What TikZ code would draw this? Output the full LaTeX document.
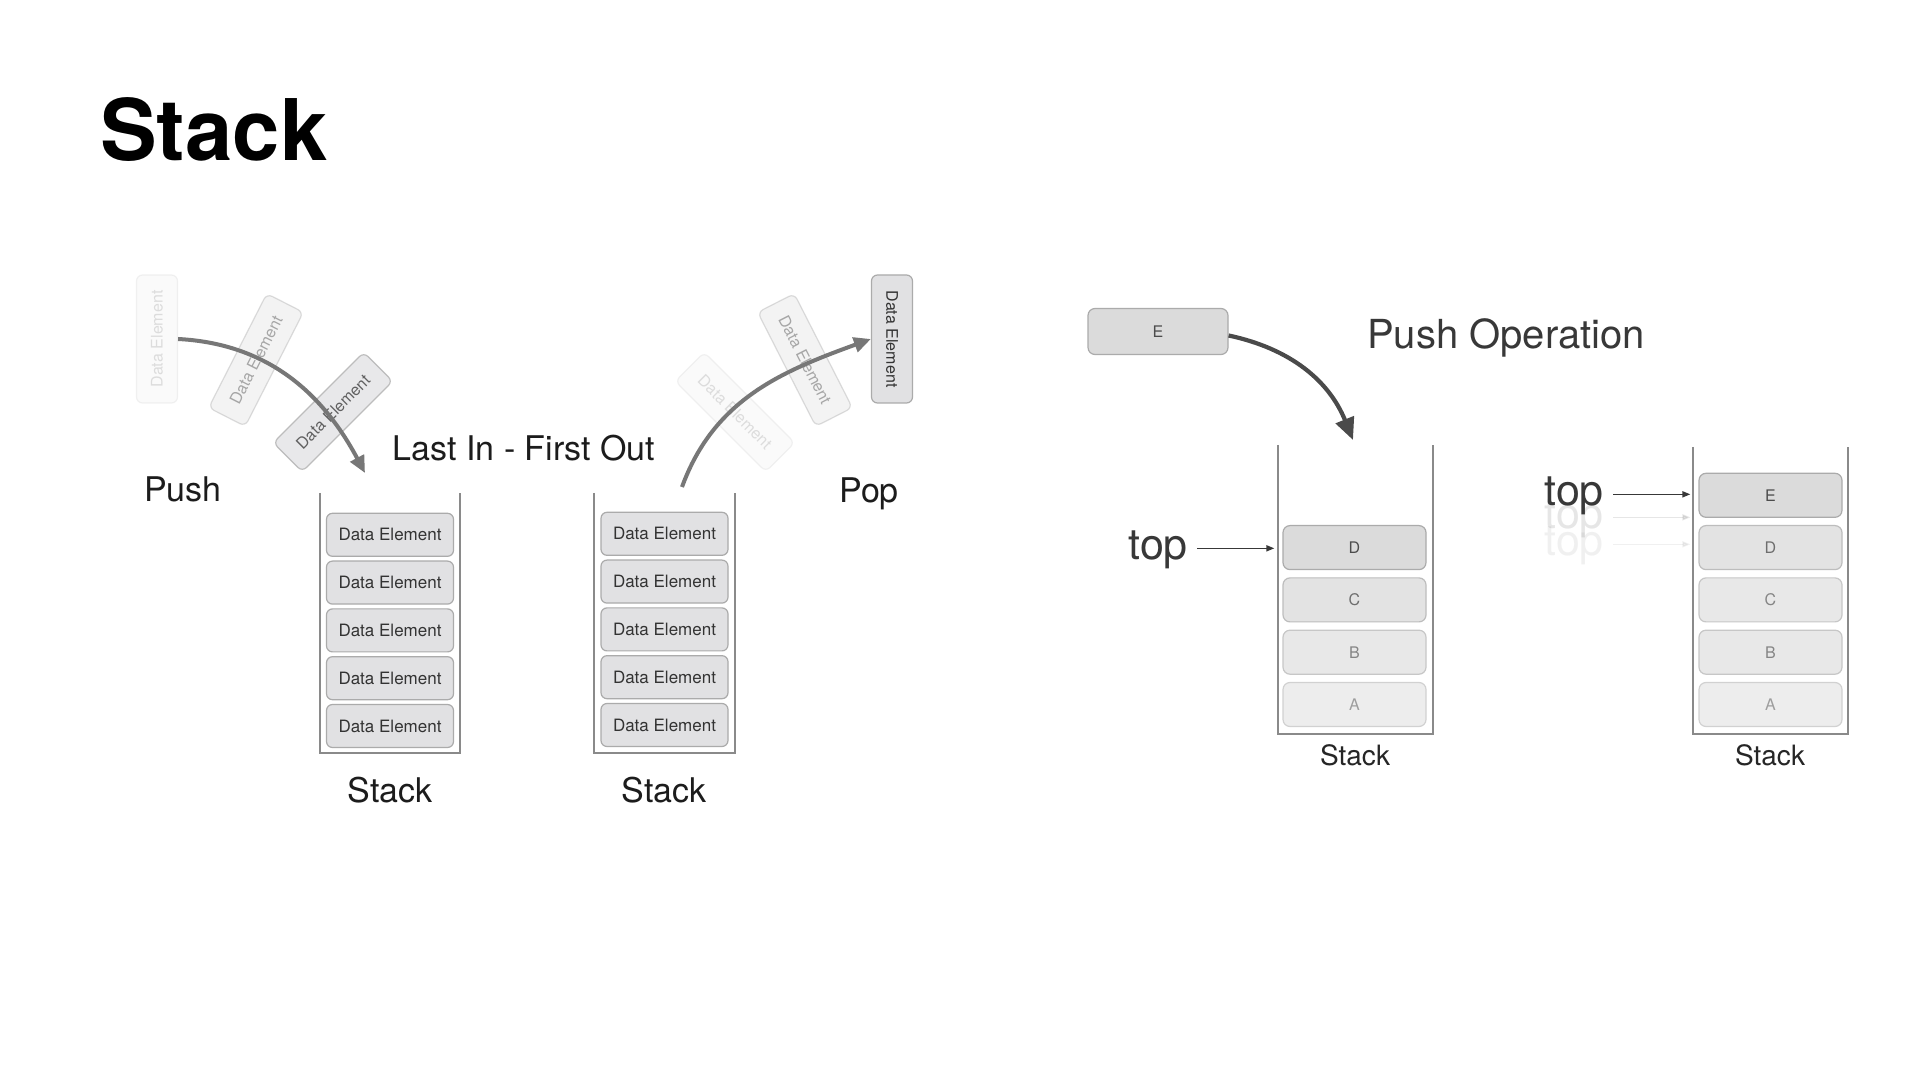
\documentclass[tikz,border=0pt]{standalone}
\usepackage{fontspec}
\setmainfont{TeX Gyre Heros}
\usetikzlibrary{arrows.meta,positioning,calc}

\definecolor{cellfill}{HTML}{E1E1E3}
\definecolor{celldraw}{HTML}{ABABAB}
\definecolor{celltext}{HTML}{333333}
\definecolor{wallgray}{HTML}{8A8A8A}
\definecolor{flowgray}{HTML}{777777}
\definecolor{pushgray}{HTML}{4A4A4A}
\definecolor{labeltext}{HTML}{1C1C1C}
\definecolor{optext}{HTML}{383838}

\tikzset{
  every node/.style={inner sep=0pt},
  elem/.style={draw=celldraw, fill=cellfill, line width=1.2pt, rounded corners=6pt,
    minimum width=127pt, minimum height=43pt, text=celltext, font=\fontsize{17}{17}\selectfont},
  flyelem/.style={elem, minimum width=128pt, minimum height=41pt, font=\fontsize{16}{16}\selectfont},
  cell/.style={line width=1.2pt, rounded corners=7pt, minimum width=143pt, minimum height=44pt,
    font=\fontsize{16}{16}\selectfont},
  cellA/.style={cell, draw=celldraw, fill=black!14, text=black!70},
  cellB/.style={cell, draw=black!26, fill=black!11, text=black!57},
  cellC/.style={cell, draw=black!22, fill=black!9, text=black!48},
  cellD/.style={cell, draw=black!18, fill=black!7, text=black!38},
  wall/.style={draw=wallgray, line width=2.5pt},
  thinwall/.style={draw=wallgray, line width=2pt},
  bigtext/.style={font=\fontsize{34}{34}\selectfont, text=labeltext},
  toptext/.style={font=\fontsize{43}{43}\selectfont, text=optext},
  smalltext/.style={font=\fontsize{28}{28}\selectfont, text=black!85},
  flow/.style={draw=flowgray, line width=4pt, -{Triangle[length=17pt,width=15pt]}},
  pushflow/.style={draw=pushgray, line width=4.2pt, -{Triangle[length=22pt,width=19pt]}},
  ptr/.style={draw=optext, line width=1.6pt, -{Triangle[length=8pt,width=6pt]}},
}

\begin{document}
\begin{tikzpicture}[x=1pt,y=1pt]

        \fill[white] (0,0) rectangle (1920,1080);
        \useasboundingbox (0,0) rectangle (1920,1080);

        \node[anchor=base west, font=\bfseries\fontsize{85}{85}\selectfont] (title) at (100,919) {Stack};

        % push side
        \node[flyelem, rotate=90, opacity=.15] (inA) at (157,741) {Data Element};
        \node[flyelem, rotate=63, opacity=.4] (inB) at (256,720) {Data Element};
        \node[flyelem, rotate=45, opacity=.75] (inC) at (333,668) {Data Element};
        \coordinate (pushtip) at (365,607);
        \draw[flow] (inA.south) to[out=-3,in=118] (pushtip);

        \node[bigtext, anchor=base west] (push) at (144,578) {Push};
        \node[bigtext, anchor=base] (lifo) at (524,619) {Last In - First Out};

        % pop side
        \node[flyelem, rotate=-90] (outA) at (892,741) {Data Element};
        \node[flyelem, rotate=-63, opacity=.4] (outB) at (805,720) {Data Element};
        \node[flyelem, rotate=-45, opacity=.15] (outC) at (735,668) {Data Element};
        \coordinate (popstart) at (682,593);
        \draw[flow] (popstart) to[out=70,in=200] (outA.south);

        \node[bigtext, anchor=base] (pop) at (869,577) {Pop};

        % left stack
        \draw[wall] (320,587) -- (320,327) -- (460,327) -- (460,587);
        \node[elem] (l1) at (390,354) {Data Element};
        \node[elem, above=3.6pt of l1] (l2) {Data Element};
        \node[elem, above=3.6pt of l2] (l3) {Data Element};
        \node[elem, above=3.6pt of l3] (l4) {Data Element};
        \node[elem, above=3.6pt of l4] (l5) {Data Element};
        \node[bigtext, anchor=base] (lstack) at (390,277) {Stack};

        % right stack
        \draw[wall] (594,587) -- (594,327) -- (735,327) -- (735,587);
        \node[elem] (r1) at (664.5,355) {Data Element};
        \node[elem, above=3.6pt of r1] (r2) {Data Element};
        \node[elem, above=3.6pt of r2] (r3) {Data Element};
        \node[elem, above=3.6pt of r3] (r4) {Data Element};
        \node[elem, above=3.6pt of r4] (r5) {Data Element};
        \node[bigtext, anchor=base] (rstack) at (664,277) {Stack};

        % push operation
        \node[cellA, minimum width=140pt, minimum height=46pt] (ebox) at (1158,748.5) {E};
        \node[font=\fontsize{40}{40}\selectfont, text=optext, anchor=base] (pushop) at (1506,731) {Push Operation};
        \coordinate (droptip) at (1353,640);
        \draw[pushflow] ([yshift=-4pt]ebox.east) to[out=-12,in=112] (droptip);

        % stack before
        \draw[thinwall] (1278,635) -- (1278,346) -- (1433,346) -- (1433,635);
        \node[cellD] (a3) at (1354.5,375.5) {A};
        \node[cellC, above=7.1pt of a3] (b3) {B};
        \node[cellB, above=7.1pt of b3] (c3) {C};
        \node[cellA, above=7.1pt of c3] (d3) {D};
        \node[smalltext, anchor=base] (stack3) at (1355,314) {Stack};
        \node[toptext, anchor=base east] (top1) at (1188,520) {top};
        \draw[ptr, shorten <=9pt, shorten >=8pt] ([yshift=2pt]top1.east) -- ([yshift=2pt]top1.east -| d3.west);

        % stack after
        \draw[thinwall] (1693,633) -- (1693,346) -- (1848,346) -- (1848,633);
        \node[cellD] (a4) at (1770.5,375.5) {A};
        \node[cellC, above=7.1pt of a4] (b4) {B};
        \node[cellC, above=7.1pt of b4] (c4) {C};
        \node[cellB, above=7.1pt of c4] (d4) {D};
        \node[cellA, above=7.1pt of d4] (e4) {E};
        \node[smalltext, anchor=base] (stack4) at (1770,314) {Stack};
        \node[toptext, anchor=base east, opacity=.07] (top2b) at (1604,524) {top};
        \node[toptext, anchor=base east, opacity=.12] (top2a) at (1604,551) {top};
        \draw[ptr, opacity=.07, shorten <=9pt, shorten >=8pt] ([yshift=2pt]top2b.east) -- ([yshift=2pt]top2b.east -| d4.west);
        \draw[ptr, opacity=.12, shorten <=9pt, shorten >=8pt] ([yshift=2pt]top2a.east) -- ([yshift=2pt]top2a.east -| e4.west);
        \node[toptext, anchor=base east] (top2) at (1604,574) {top};
        \draw[ptr, shorten <=9pt, shorten >=8pt] ([yshift=2pt]top2.east) -- ([yshift=2pt]top2.east -| e4.west);

\end{tikzpicture}
\end{document}
